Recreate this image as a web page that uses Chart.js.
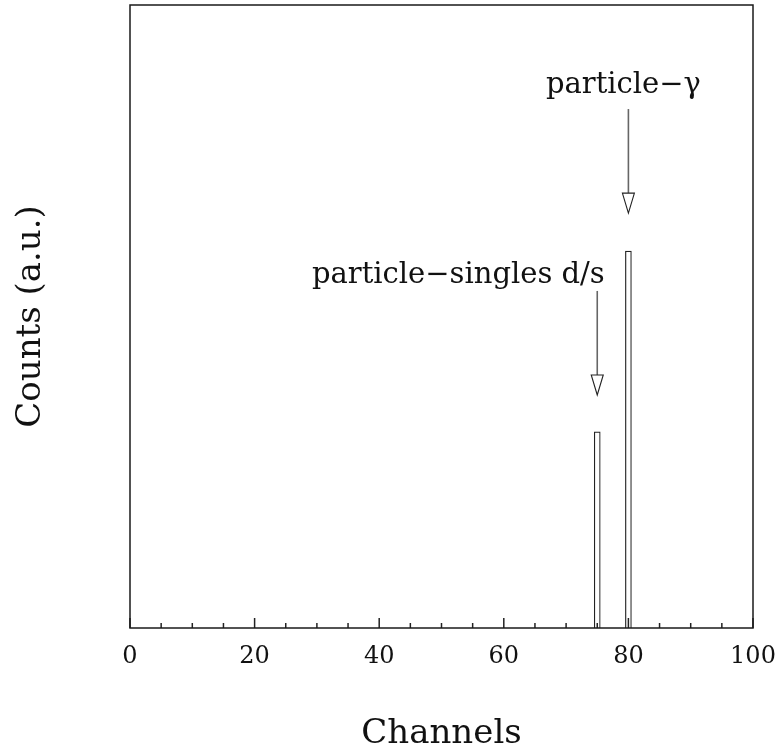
<!DOCTYPE html>
<html>
<head>
<meta charset="utf-8">
<script src="https://cdn.jsdelivr.net/npm/chart.js@4"></script>
<style>
  html, body { margin: 0; padding: 0; background: #fff; }
  #wrap { width: 781px; height: 751px; }
</style>
</head>
<body>
<div id="wrap"><canvas id="c" width="781" height="751"></canvas></div>
<script>
// ---- data ----
const channels = [75, 80];
const counts = [31.5, 60.5];
const xTickValues = [0, 20, 40, 60, 80, 100];
const minorTickValues = [5, 10, 15, 25, 30, 35, 45, 50, 55, 65, 70, 75, 85, 90, 95];
const labelTexts = ['particle\u2212singles d/s', 'particle\u2212\u03b3'];
const labelX = [52.7, 79.2];
const labelY = [55.4, 85.9];
const arrowX = [75, 80];
const arrowFrom = [54.1, 83.3];
const arrowTo = [37.4, 66.6];

const FONT = "'DejaVu Serif', 'Liberation Serif', serif";

const decor = {
  id: 'decor',
  afterDraw(chart) {
    const {ctx, chartArea: a, scales: {x, y}} = chart;
    ctx.save();
    // ticks (inward)
    ctx.strokeStyle = '#222';
    ctx.lineWidth = 1.5;
    const drawTick = (v, len) => {
      const px = x.getPixelForValue(v);
      ctx.beginPath();
      ctx.moveTo(px, a.bottom);
      ctx.lineTo(px, a.bottom - len);
      ctx.stroke();
    };
    xTickValues.forEach(v => drawTick(v, 10));
    minorTickValues.forEach(v => drawTick(v, 5));
    // frame
    ctx.lineWidth = 1.5;
    ctx.strokeStyle = '#1a1a1a';
    ctx.strokeRect(a.left, a.top, a.right - a.left, a.bottom - a.top);
    // arrows
    for (let i = 0; i < arrowX.length; i++) {
      const px = x.getPixelForValue(arrowX[i]);
      const y0 = y.getPixelForValue(arrowFrom[i]);
      const y1 = y.getPixelForValue(arrowTo[i]);
      const headH = 20, headW = 6;
      ctx.strokeStyle = '#666';
      ctx.lineWidth = 1.6;
      ctx.beginPath();
      ctx.moveTo(px, y0);
      ctx.lineTo(px, y1 - headH);
      ctx.stroke();
      ctx.strokeStyle = '#222';
      ctx.lineWidth = 1.1;
      ctx.fillStyle = '#fff';
      ctx.beginPath();
      ctx.moveTo(px - headW, y1 - headH);
      ctx.lineTo(px + headW, y1 - headH);
      ctx.lineTo(px, y1);
      ctx.closePath();
      ctx.fill();
      ctx.stroke();
    }
    // labels
    ctx.fillStyle = '#111';
    ctx.font = "29px " + FONT;
    ctx.textAlign = 'center';
    ctx.textBaseline = 'alphabetic';
    for (let i = 0; i < labelTexts.length; i++) {
      ctx.fillText(labelTexts[i], x.getPixelForValue(labelX[i]), y.getPixelForValue(labelY[i]));
    }
    ctx.restore();
  }
};

new Chart(document.getElementById('c'), {
  type: 'bar',
  data: {
    datasets: [{
      data: channels.map((c, i) => ({x: c, y: counts[i]})),
      backgroundColor: '#ffffff',
      borderColor: '#222',
      borderWidth: 1.2,
      barThickness: 6
    }]
  },
  options: {
    responsive: false,
    animation: false,
    devicePixelRatio: 1,
    layout: { padding: { top: 5, right: 28, left: 0, bottom: 0 } },
    plugins: { legend: { display: false }, tooltip: { enabled: false } },
    scales: {
      x: {
        type: 'linear',
        min: 0, max: 100,
        offset: false,
        afterFit: s => { s.height = 123; s.paddingLeft = 0; s.paddingRight = 0; },
        afterBuildTicks: s => { s.ticks = xTickValues.map(v => ({value: v})); },
        grid: { display: false, drawTicks: false, tickLength: 0, offset: false },
        border: { display: false },
        ticks: { color: '#111', font: { family: FONT, size: 24 }, padding: 14, maxRotation: 0, autoSkip: false },
        title: { display: true, text: 'Channels', color: '#111', font: { family: FONT, size: 34, lineHeight: 1 }, padding: 0 }
      },
      y: {
        min: 0, max: 100,
        afterFit: s => { s.width = 130; s.paddingTop = 0; s.paddingBottom = 0; },
        grid: { display: false, drawTicks: false, tickLength: 0 },
        border: { display: false },
        ticks: { display: false },
        title: { display: true, text: 'Counts (a.u.)', color: '#111', font: { family: FONT, size: 34, lineHeight: 1 }, padding: { top: 14, bottom: 0 } }
      }
    }
  },
  plugins: [decor]
});
</script>
</body>
</html>
